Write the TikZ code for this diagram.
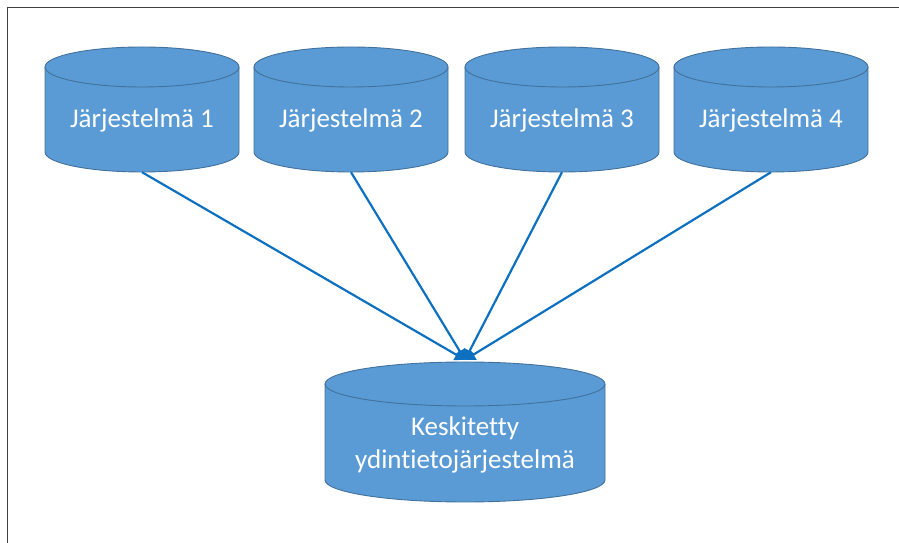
\documentclass[tikz,border=0pt]{standalone}
\usepackage{fontspec}
\setmainfont{Carlito}[Ligatures={NoCommon,NoRare,NoContextual}]
\usetikzlibrary{arrows.meta}
\definecolor{cylblue}{HTML}{5B9BD5}
\definecolor{cyledge}{HTML}{41719C}
\definecolor{linkblue}{HTML}{0E70C0}
\definecolor{framegray}{HTML}{404040}
\tikzset{
  cylfill/.style={fill=cylblue, draw=cyledge, line width=0.9pt},
  cylline/.style={draw=cyledge, line width=0.9pt},
  cyltext/.style={text=white, font=\fontsize{27}{33}\selectfont, inner sep=0pt, align=center},
  link/.style={draw=linkblue, line width=2.2pt, -{Triangle[length=10pt,width=12pt]}},
  frame/.style={draw=framegray, line width=1.6pt}
}
% name, cx, Ytop, Ybottom, half width, ry
\newcommand\mycyl[6]{%
  \path[cylfill] (#2-#5,#3-#6) -- (#2-#5,#4+#6)
     arc[start angle=180,end angle=360,x radius=#5pt,y radius=#6pt]
     -- (#2+#5,#3-#6)
     arc[start angle=0,end angle=180,x radius=#5pt,y radius=#6pt] -- cycle;
  \draw[cylline] (#2-#5,#3-#6) arc[start angle=180,end angle=360,x radius=#5pt,y radius=#6pt];
  \node[inner sep=0pt, minimum width=#5*2pt, minimum height=(#3-#4)*1pt] (#1) at (#2,{(#3+#4)/2}) {};
}
\begin{document}
\begin{tikzpicture}[x=1pt,y=1pt]
\useasboundingbox (0,0) rectangle (899,543);
\draw[frame] (7.5,0) -- (7.5,535.5) -- (899,535.5);
\mycyl{s1}{142}{496}{371}{97}{20}
\mycyl{s2}{351}{496}{371}{97}{20}
\mycyl{s3}{562}{496}{371}{97}{20}
\mycyl{s4}{771}{496}{371}{97}{20}
\mycyl{c}{465}{181}{41}{140}{22}
\node[cyltext, anchor=base] (t1) at (142,415) {Järjestelmä 1};
\node[cyltext, anchor=base] (t2) at (351,415) {Järjestelmä 2};
\node[cyltext, anchor=base] (t3) at (562,415) {Järjestelmä 3};
\node[cyltext, anchor=base] (t4) at (771,415) {Järjestelmä 4};
\node[cyltext] (tc) at (465,98) {Keskitetty\\ydintietojärjestelmä};
\draw[link] (s1.south) -- ([yshift=2pt]c.north);
\draw[link] (s2.south) -- ([yshift=2pt]c.north);
\draw[link] (s3.south) -- ([yshift=2pt]c.north);
\draw[link] (s4.south) -- ([yshift=2pt]c.north);
\end{tikzpicture}
\end{document}
